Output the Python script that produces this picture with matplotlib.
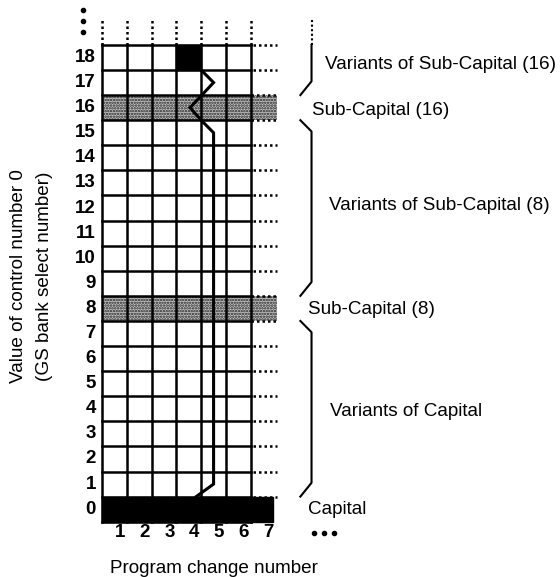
import numpy as np
import matplotlib.pyplot as plt
from matplotlib.patches import Rectangle

plt.rcParams['font.family'] = ['Liberation Sans', 'DejaVu Sans']
plt.rcParams['hatch.linewidth'] = 1.2

# grid: program change columns and bank-select rows
program_cols = [1, 2, 3, 4, 5, 6, 7]
bank_rows = list(range(0, 19))
stipple_rows = [8, 16]        # sub-capital banks
capital_row = 0
selected_cell = (4, 18)        # (program, bank) of the black cell

# path of the fallback line (program, bank)
path_x = [3.8, 4.5, 4.5, 4.0, 3.55, 4.5, 4.0]
path_y = [1.0, 1.5, 15.5, 16.0, 16.5, 17.5, 18.0]

# brackets on the right side
brackets = [
    ([8.45, 8.45, 8.0], [19.0, 17.55, 17.0]),
    ([8.0, 8.45, 8.45, 8.0], [16.0, 15.55, 9.55, 9.0]),
    ([8.0, 8.45, 8.45, 8.0], [8.0, 7.55, 1.55, 1.0]),
]
labels = [
    (9.0, 18.2, 'Variants of Sub-Capital (16)'),
    (8.45, 16.4, 'Sub-Capital (16)'),
    (9.15, 12.6, 'Variants of Sub-Capital (8)'),
    (8.3, 8.45, 'Sub-Capital (8)'),
    (9.2, 4.4, 'Variants of Capital'),
    (8.3, 0.5, 'Capital'),
]

fig = plt.figure(figsize=(5.6, 5.77), dpi=100)
ax = fig.add_axes([0, 0, 1, 1])
ax.set_xlim(-4.113, 18.47)
ax.set_ylim(-2.204, 20.79)
ax.axis('off')

ncol = 6
nrow = len(bank_rows) + 1
lw = 1.8
fs = 13.6

# stippled rows and black capital row
for r in stipple_rows:
    ax.add_patch(Rectangle((0, r), 7.05, 1, facecolor='#c4c4c4', edgecolor='#202020',
                           lw=0, hatch='......', zorder=1))
    ax.plot([6, 7.05], [r, r], color='black', lw=lw, ls=(0, (1, 1.2)), zorder=3)
    ax.plot([6, 7.05], [r + 1, r + 1], color='black', lw=lw, ls=(0, (1, 1.2)), zorder=3)
ax.add_patch(Rectangle((0, capital_row), 6.9, 1, facecolor='black', edgecolor='black', zorder=2))

# selected cell
ax.add_patch(Rectangle((selected_cell[0] - 1, selected_cell[1]), 1, 1,
                       facecolor='black', edgecolor='black', zorder=2))

# grid lines
for c in range(ncol + 1):
    ax.plot([c, c], [0, nrow - 1], color='black', lw=lw, zorder=3)
    ax.plot([c, c], [nrow - 1, nrow], color='black', lw=lw, ls=(0, (1, 1.2)), zorder=3)
for r in range(nrow):
    ax.plot([0, ncol], [r, r], color='black', lw=lw, zorder=3)
    if r not in stipple_rows and r - 1 not in stipple_rows and r > 0:
        ax.plot([6.1, 7.05], [r, r], color='black', lw=lw, ls=(0, (1, 1.2)), zorder=3)

# vertical ellipsis above row labels
ax.scatter([-0.77] * 3, [20.39, 19.95, 19.52], s=9, color='black', zorder=3)

# fallback path
ax.plot(path_x, path_y, color='black', lw=2.2, solid_joinstyle='miter', zorder=4)

# brackets
ax.plot([8.45, 8.45], [20.0, 19.0], color='black', lw=1.5, ls=(0, (1, 1.2)))
for bx, by in brackets:
    ax.plot(bx, by, color='black', lw=1.5)

for x, y, t in labels:
    ax.text(x, y, t, fontsize=fs, va='center', ha='left')
ax.scatter([8.55, 8.95, 9.35], [-0.45] * 3, s=9, color='black')

# tick labels
for k in program_cols:
    ax.text(k - 0.28, -0.45, str(k), fontsize=13.5, fontweight='bold', ha='center', va='center')
for r in bank_rows:
    ax.text(-0.24, r + 0.5, str(r), fontsize=13.5, fontweight='bold', ha='right', va='center')

ax.text(4.5, -1.85, 'Program change number', fontsize=fs, ha='center', va='center')
ax.text(-3.37, 9.79, 'Value of control number 0', fontsize=fs, rotation=90, ha='center', va='center')
ax.text(-2.3, 9.79, '(GS bank select number)', fontsize=fs, rotation=90, ha='center', va='center')

fig.savefig('out.png', dpi=100)
